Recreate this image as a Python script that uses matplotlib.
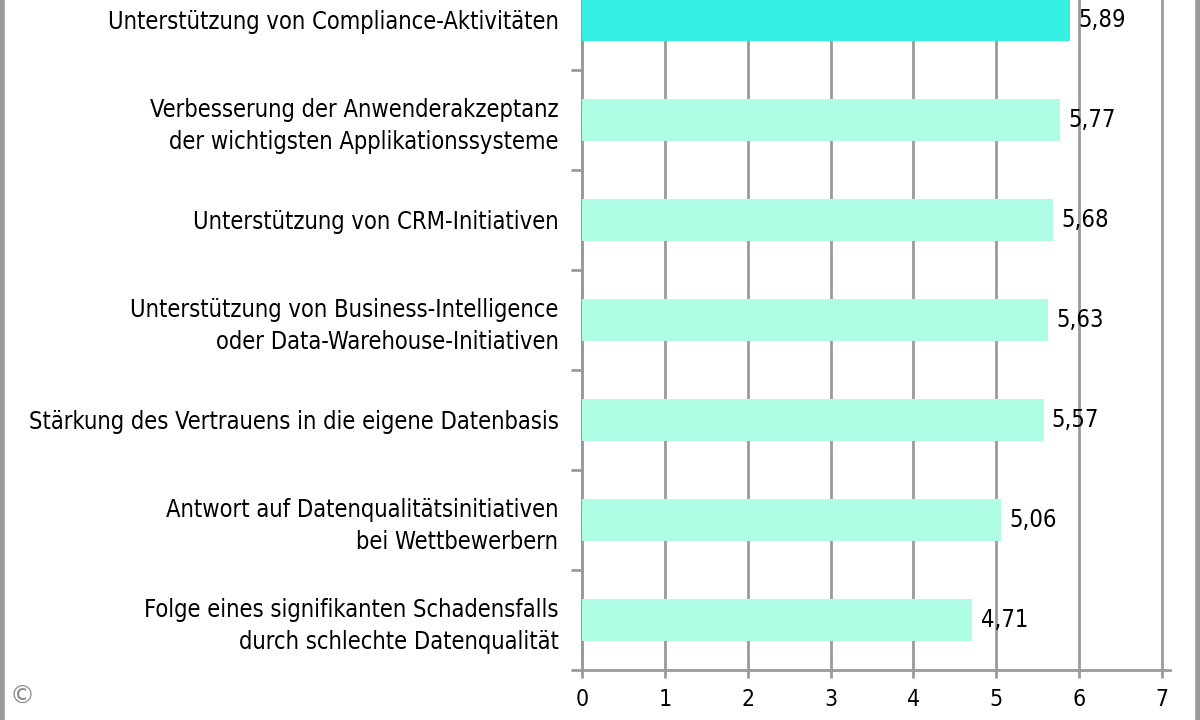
import matplotlib.pyplot as plt
from matplotlib.lines import Line2D

kategorien = [
    "Unterstützung von Compliance-Aktivitäten",
    "Verbesserung der Anwenderakzeptanz\nder wichtigsten Applikationssysteme",
    "Unterstützung von CRM-Initiativen",
    "Unterstützung von Business-Intelligence\noder Data-Warehouse-Initiativen",
    "Stärkung des Vertrauens in die eigene Datenbasis",
    "Antwort auf Datenqualitätsinitiativen\nbei Wettbewerbern",
    "Folge eines signifikanten Schadensfalls\ndurch schlechte Datenqualität",
]
werte = [5.89, 5.77, 5.68, 5.63, 5.57, 5.06, 4.71]
wert_labels = ["5,89", "5,77", "5,68", "5,63", "5,57", "5,06", "4,71"]
x_ticks = [0, 1, 2, 3, 4, 5, 6, 7]

grau = "#9a9a9a"
farben = ["#33f0e2"] + ["#b0fde6"] * 6

plt.rcParams['font.family'] = ['DejaVu Sans']
fig = plt.figure(figsize=(12, 7.2), dpi=100)
# Achse ragt oben über das Bild hinaus (oberste Kategorie angeschnitten)
ax = fig.add_axes([582 / 1200, 50 / 720, 580 / 1200, 700 / 720])

pos = list(range(len(kategorien)))[::-1]
ax.barh(pos, werte, height=0.42, color=farben, zorder=3)
for p, w, t in zip(pos, werte, wert_labels):
    ax.text(w + 0.1, p, t, va='center', ha='left', fontsize=17,
            fontstretch='condensed', color='black', zorder=4)

ax.set_xlim(0, 7)
ax.set_ylim(-0.5, 6.5)
ax.set_xticks(x_ticks)
ax.set_xticklabels([str(v) for v in x_ticks], fontsize=16.5, fontstretch='condensed')
ax.set_yticks(pos)
ax.set_yticklabels(kategorien, fontsize=17, fontstretch='condensed', linespacing=1.42)
ax.tick_params(axis='y', length=0, pad=17)
ax.tick_params(axis='x', length=6, width=2, color=grau, pad=7)

# kleine Trennstriche links zwischen den Kategorien
ax.set_yticks([p + 0.5 for p in range(-1, 7)], minor=True)
ax.tick_params(axis='y', which='minor', length=8, width=2, color=grau)

ax.grid(axis='x', color=grau, linewidth=2, zorder=1)
for gl in ax.get_xgridlines():
    gl.set_clip_on(False)
for s in ['top', 'right']:
    ax.spines[s].set_visible(False)
for s in ['left', 'bottom']:
    ax.spines[s].set_color(grau)
    ax.spines[s].set_linewidth(2)
ax.spines['bottom'].set_bounds(0, 7.1)

# Rahmen links und rechts
fig.add_artist(Line2D([0.002, 0.002], [0, 1], color=grau, linewidth=4, transform=fig.transFigure))
fig.add_artist(Line2D([0.998, 0.998], [0, 1], color=grau, linewidth=4, transform=fig.transFigure))
fig.text(22 / 1200, 1 - 697 / 720, "©", fontsize=18, color='#888888', ha='center', va='center')

fig.savefig("out.png", dpi=100)
